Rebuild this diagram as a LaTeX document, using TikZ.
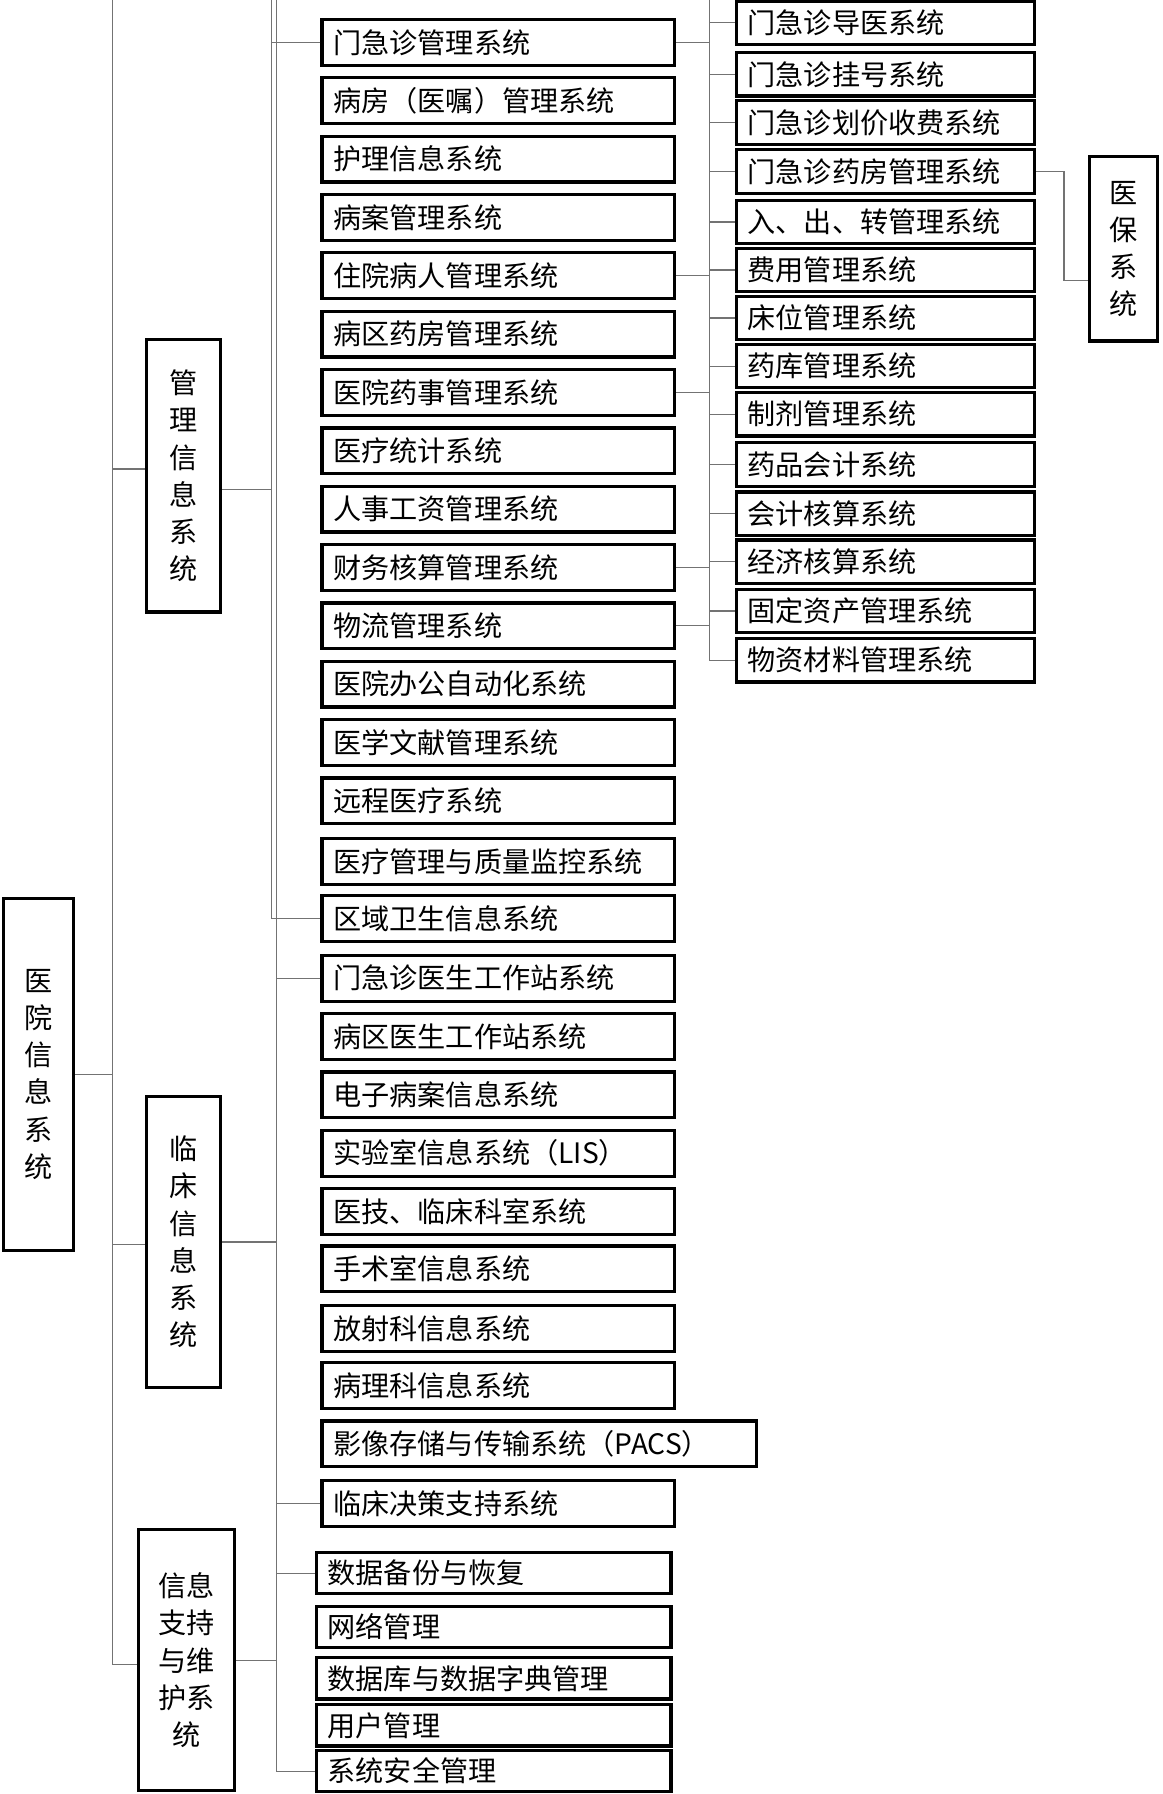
\documentclass[tikz,border=0pt]{standalone}
\usepackage{fontspec}
\newfontfamily\cjk{Noto Sans CJK SC}
\begin{document}
\begin{tikzpicture}[x=0.02cm,y=-0.02cm,
  bx/.style={draw=black,line width=1.6pt,fill=white,inner xsep=0pt,inner ysep=0pt,font=\cjk\fontsize{14}{16}\selectfont},
  vbx/.style={draw=black,line width=1.6pt,fill=white,align=center,font=\cjk\fontsize{14}{18.5}\selectfont},
  conn/.style={draw=black!55,line width=0.6pt}]
\useasboundingbox (0,0) rectangle (1016,1568);
\newcommand\mb[6]{\node[bx,anchor=west,minimum width={(#3-#2)*0.02cm},minimum height={#5*0.02cm},text width={(#3-#2-20)*0.02cm},align=left] (#1) at (#2,#4) {#6};}
% top levels
\node[vbx,minimum width=1.22cm,minimum height=6.16cm] (root) at (33.5,939) {医\\院\\信\\息\\系\\统};
\node[vbx,minimum width=1.3cm,minimum height=4.76cm] (mg) at (160.5,416) {管\\理\\信\\息\\系\\统};
\node[vbx,minimum width=1.3cm,minimum height=5.1cm] (lc) at (160.5,1085.5) {临\\床\\信\\息\\系\\统};
\node[vbx,minimum width=1.68cm,minimum height=4.56cm] (zc) at (163,1451) {信息\\支持\\与维\\护系\\统};
\coordinate (r1) at (98,0);
\draw[conn] (root.east) -- (root.east -| r1);
\draw[conn] (mg.west |- 0,410) -| (r1) |- (zc.west |- 0,1455);
\draw[conn] (r1 |- 0,1088) -- (lc.west |- 0,1088);
% management children
\foreach \n/\y/\t in {a1/37/门急诊管理系统,a2/88/病房（医嘱）管理系统,a3/139/护理信息系统,a4/190/病案管理系统,a5/241/住院病人管理系统,a6/292/病区药房管理系统,a7/343/医院药事管理系统,a8/394/医疗统计系统,a9/445/人事工资管理系统,a10/496/财务核算管理系统,a11/547/物流管理系统,a12/598/医院办公自动化系统,a13/649/医学文献管理系统,a14/700/远程医疗系统,a15/753/医疗管理与质量监控系统,a16/803/区域卫生信息系统}
  {\mb{\n}{280}{588}{\y}{40}{\t}}
\coordinate (m1) at (237,0);
\draw[conn] (mg.east |- 0,428) -- (m1 |- 0,428);
\draw[conn] (a1.west) -| (m1) |- (a16.west);
% clinical
\foreach \n/\y/\t/\w in {b1/855/门急诊医生工作站系统/588,b2/906/病区医生工作站系统/588,b3/957/电子病案信息系统/588,b4/1008/实验室信息系统（LIS）/588,b5/1059/医技、临床科室系统/588,b6/1109/手术室信息系统/588,b7/1161/放射科信息系统/588,b8/1211/病理科信息系统/588,b9/1262/影像存储与传输系统（PACS）/660,b10/1314/临床决策支持系统/588}
  {\mb{\n}{280}{\w}{\y}{40}{\t}}
\coordinate (m2) at (242,0);
\draw[conn] (lc.east) -- (m2 |- lc.east);
\draw[conn] (b1.west) -| (m2) |- (b10.west);
% support
\foreach \n/\y/\t in {c1/1375/数据备份与恢复,c2/1422/网络管理,c3/1467/数据库与数据字典管理,c4/1508/用户管理,c5/1548/系统安全管理}
  {\mb{\n}{275}{585}{\y}{36}{\t}}
\draw[conn] (zc.east) -- (m2 |- zc.east);
\draw[conn] (c1.west) -| (m2) |- (c5.west);
% third level
\coordinate (m3) at (620,0);
\foreach \n/\y/\t in {d1/20/门急诊导医系统,d2/65/门急诊挂号系统,d3/107/门急诊划价收费系统,d4/150/门急诊药房管理系统,e1/194/入、出、转管理系统,e2/236/费用管理系统,e3/278/床位管理系统,f1/320/药库管理系统,f2/362/制剂管理系统,f3/406/药品会计系统,g1/449/会计核算系统,g2/491/经济核算系统,h1/534/固定资产管理系统,h2/577/物资材料管理系统}
  {\mb{\n}{642}{903}{\y}{38}{\t}}
\draw[conn] (a1.east) -- (m3 |- a1.east); \draw[conn] (d1.west) -| (m3) |- (d4.west);
\draw[conn] (m3 |- d2.west) -- (d2.west); \draw[conn] (m3 |- d3.west) -- (d3.west);
\draw[conn] (a5.east) -- (m3 |- a5.east); \draw[conn] (e1.west) -| (m3) |- (e3.west);
\draw[conn] (m3 |- e2.west) -- (e2.west);
\draw[conn] (a7.east) -- (m3 |- a7.east); \draw[conn] (f1.west) -| (m3) |- (f3.west);
\draw[conn] (m3 |- f2.west) -- (f2.west);
\draw[conn] (a10.east) -- (m3 |- a10.east); \draw[conn] (g1.west) -| (m3) |- (g2.west);
\draw[conn] (a11.east) -- (m3 |- a11.east); \draw[conn] (h1.west) -| (m3) |- (h2.west);
% yibao
\node[vbx,minimum width=1.2cm,minimum height=3.22cm] (yb) at (982,217.5) {医\\保\\系\\统};
\draw[conn] (d4.east) -- (930,150) |- (yb.west |- 0,245);
\end{tikzpicture}
\end{document}
